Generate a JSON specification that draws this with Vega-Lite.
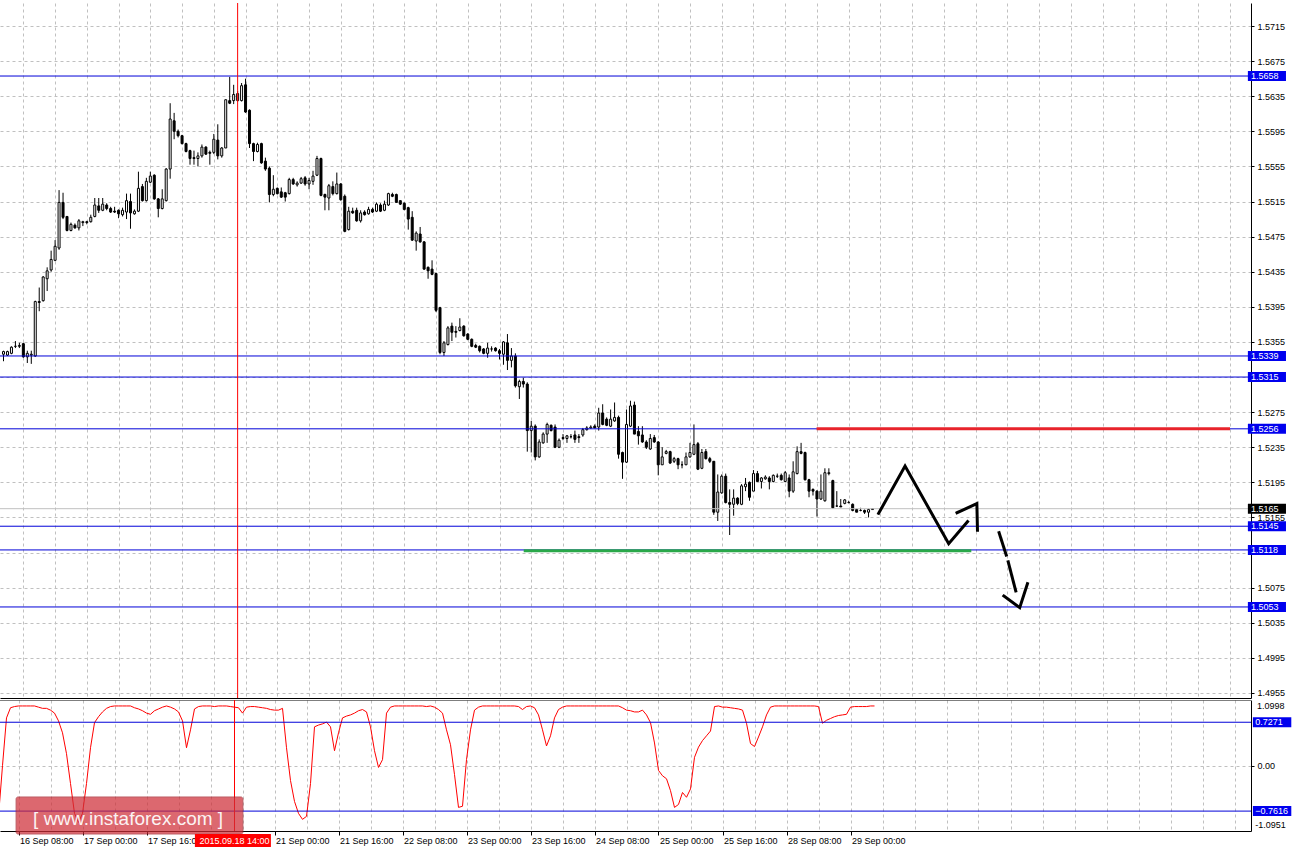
{
"$schema": "https://vega.github.io/schema/vega-lite/v6.json",
"background": "white",
"padding": 0,
"autosize": {"type": "pad"},
"spacing": 2,
"bounds": "flush",
"config": {
  "view": {"stroke": null},
  "font": "Liberation Sans",
  "axis": {"labelFont": "Liberation Sans", "labelFontSize": 9, "labelColor": "black", "domainColor": "black", "domainWidth": 1, "tickColor": "black", "gridColor": "#c0c0c0", "gridDash": [3, 3], "gridWidth": 1, "labelOverlap": false, "labelFlush": false, "labelBound": false}
},
"datasets": {
  "bars": [
{"k":0,"o":1.5341,"h":1.5345,"l":1.5333,"c":1.5344,"v":-0.85},
{"k":1,"o":1.5340,"h":1.5345,"l":1.5339,"c":1.5344,"v":0.0},
{"k":2,"o":1.5342,"h":1.5350,"l":1.5341,"c":1.5349,"v":0.8},
{"k":3,"o":1.5350,"h":1.5356,"l":1.5348,"c":1.5350,"v":0.97},
{"k":4,"o":1.5350,"h":1.5354,"l":1.5348,"c":1.5351,"v":0.99},
{"k":5,"o":1.5353,"h":1.5354,"l":1.5337,"c":1.5338,"v":1.0},
{"k":6,"o":1.5338,"h":1.5345,"l":1.5331,"c":1.5342,"v":1.0},
{"k":7,"o":1.5340,"h":1.5345,"l":1.5330,"c":1.5341,"v":1.0},
{"k":8,"o":1.5339,"h":1.5402,"l":1.5338,"c":1.5401,"v":1.0},
{"k":9,"o":1.5401,"h":1.5417,"l":1.5390,"c":1.5400,"v":1.0},
{"k":10,"o":1.5402,"h":1.5430,"l":1.5401,"c":1.5429,"v":0.98},
{"k":11,"o":1.5427,"h":1.5440,"l":1.5413,"c":1.5436,"v":0.96},
{"k":12,"o":1.5437,"h":1.5459,"l":1.5435,"c":1.5449,"v":0.96},
{"k":13,"o":1.5448,"h":1.5471,"l":1.5447,"c":1.5464,"v":0.93},
{"k":14,"o":1.5462,"h":1.5528,"l":1.5460,"c":1.5514,"v":0.88},
{"k":15,"o":1.5514,"h":1.5525,"l":1.5495,"c":1.5497,"v":0.75},
{"k":16,"o":1.5498,"h":1.5498,"l":1.5481,"c":1.5482,"v":0.55},
{"k":17,"o":1.5482,"h":1.5491,"l":1.5481,"c":1.5489,"v":0.2},
{"k":18,"o":1.5488,"h":1.5490,"l":1.5484,"c":1.5485,"v":-0.3},
{"k":19,"o":1.5485,"h":1.5495,"l":1.5482,"c":1.5493,"v":-0.8},
{"k":20,"o":1.5491,"h":1.5493,"l":1.5487,"c":1.5492,"v":-0.95},
{"k":21,"o":1.5492,"h":1.5493,"l":1.5489,"c":1.5491,"v":-0.8},
{"k":22,"o":1.5492,"h":1.5500,"l":1.5491,"c":1.5497,"v":-0.3},
{"k":23,"o":1.5498,"h":1.5519,"l":1.5497,"c":1.5511,"v":0.3},
{"k":24,"o":1.5510,"h":1.5519,"l":1.5502,"c":1.5505,"v":0.72},
{"k":25,"o":1.5505,"h":1.5519,"l":1.5504,"c":1.5512,"v":0.82},
{"k":26,"o":1.5511,"h":1.5513,"l":1.5505,"c":1.5507,"v":0.9},
{"k":27,"o":1.5507,"h":1.5509,"l":1.5502,"c":1.5503,"v":0.96},
{"k":28,"o":1.5504,"h":1.5509,"l":1.5502,"c":1.5503,"v":0.99},
{"k":29,"o":1.5505,"h":1.5506,"l":1.5496,"c":1.5501,"v":1.0},
{"k":30,"o":1.5500,"h":1.5508,"l":1.5498,"c":1.5505,"v":1.0},
{"k":31,"o":1.5503,"h":1.5524,"l":1.5495,"c":1.5516,"v":1.0},
{"k":32,"o":1.5515,"h":1.5524,"l":1.5484,"c":1.5502,"v":1.0},
{"k":33,"o":1.5501,"h":1.5506,"l":1.5500,"c":1.5504,"v":1.0},
{"k":34,"o":1.5504,"h":1.5549,"l":1.5503,"c":1.5530,"v":0.97},
{"k":35,"o":1.5532,"h":1.5535,"l":1.5515,"c":1.5516,"v":0.95},
{"k":36,"o":1.5516,"h":1.5542,"l":1.5515,"c":1.5538,"v":0.92},
{"k":37,"o":1.5537,"h":1.5549,"l":1.5536,"c":1.5544,"v":0.88},
{"k":38,"o":1.5545,"h":1.5546,"l":1.5517,"c":1.5518,"v":0.86},
{"k":39,"o":1.5518,"h":1.5519,"l":1.5497,"c":1.5507,"v":0.92},
{"k":40,"o":1.5507,"h":1.5529,"l":1.5506,"c":1.5518,"v":0.95},
{"k":41,"o":1.5516,"h":1.5553,"l":1.5515,"c":1.5552,"v":0.98},
{"k":42,"o":1.5552,"h":1.5627,"l":1.5541,"c":1.5609,"v":1.0},
{"k":43,"o":1.5607,"h":1.5616,"l":1.5586,"c":1.5595,"v":0.98},
{"k":44,"o":1.5595,"h":1.5597,"l":1.5588,"c":1.5590,"v":0.95},
{"k":45,"o":1.5590,"h":1.5591,"l":1.5580,"c":1.5581,"v":0.9},
{"k":46,"o":1.5581,"h":1.5582,"l":1.5571,"c":1.5572,"v":0.75},
{"k":47,"o":1.5573,"h":1.5574,"l":1.5557,"c":1.5564,"v":0.3},
{"k":48,"o":1.5565,"h":1.5573,"l":1.5557,"c":1.5564,"v":0.6},
{"k":49,"o":1.5564,"h":1.5571,"l":1.5555,"c":1.5567,"v":0.95},
{"k":50,"o":1.5567,"h":1.5580,"l":1.5565,"c":1.5577,"v":0.99},
{"k":51,"o":1.5577,"h":1.5578,"l":1.5568,"c":1.5569,"v":1.0},
{"k":52,"o":1.5571,"h":1.5573,"l":1.5557,"c":1.5570,"v":1.0},
{"k":53,"o":1.5571,"h":1.5592,"l":1.5569,"c":1.5586,"v":1.0},
{"k":54,"o":1.5585,"h":1.5603,"l":1.5563,"c":1.5567,"v":0.99},
{"k":55,"o":1.5567,"h":1.5577,"l":1.5565,"c":1.5576,"v":1.0},
{"k":56,"o":1.5576,"h":1.5631,"l":1.5576,"c":1.5631,"v":1.0},
{"k":57,"o":1.5630,"h":1.5657,"l":1.5626,"c":1.5627,"v":1.0},
{"k":58,"o":1.5630,"h":1.5648,"l":1.5626,"c":1.5637,"v":0.99},
{"k":59,"o":1.5630,"h":1.5641,"l":1.5629,"c":1.5638,"v":0.98},
{"k":60,"o":1.5630,"h":1.5650,"l":1.5629,"c":1.5647,"v":0.97},
{"k":61,"o":1.5648,"h":1.5655,"l":1.5616,"c":1.5617,"v":0.88},
{"k":62,"o":1.5619,"h":1.5620,"l":1.5576,"c":1.5581,"v":0.98},
{"k":63,"o":1.5581,"h":1.5582,"l":1.5561,"c":1.5572,"v":0.99},
{"k":64,"o":1.5572,"h":1.5582,"l":1.5571,"c":1.5580,"v":0.99},
{"k":65,"o":1.5581,"h":1.5582,"l":1.5558,"c":1.5559,"v":0.98},
{"k":66,"o":1.5561,"h":1.5565,"l":1.5550,"c":1.5552,"v":0.97},
{"k":67,"o":1.5553,"h":1.5555,"l":1.5514,"c":1.5523,"v":0.96},
{"k":68,"o":1.5523,"h":1.5545,"l":1.5521,"c":1.5529,"v":0.94},
{"k":69,"o":1.5530,"h":1.5531,"l":1.5523,"c":1.5524,"v":0.93},
{"k":70,"o":1.5526,"h":1.5531,"l":1.5519,"c":1.5520,"v":0.93},
{"k":71,"o":1.5525,"h":1.5526,"l":1.5515,"c":1.5520,"v":0.96},
{"k":72,"o":1.5524,"h":1.5542,"l":1.5523,"c":1.5540,"v":0.3},
{"k":73,"o":1.5540,"h":1.5542,"l":1.5534,"c":1.5535,"v":-0.25},
{"k":74,"o":1.5534,"h":1.5538,"l":1.5532,"c":1.5536,"v":-0.6},
{"k":75,"o":1.5536,"h":1.5543,"l":1.5535,"c":1.5541,"v":-0.8},
{"k":76,"o":1.5542,"h":1.5544,"l":1.5533,"c":1.5535,"v":-0.9},
{"k":77,"o":1.5535,"h":1.5542,"l":1.5529,"c":1.5539,"v":-0.85},
{"k":78,"o":1.5538,"h":1.5550,"l":1.5534,"c":1.5544,"v":-0.3},
{"k":79,"o":1.5545,"h":1.5567,"l":1.5544,"c":1.5564,"v":0.65},
{"k":80,"o":1.5564,"h":1.5565,"l":1.5521,"c":1.5522,"v":0.68},
{"k":81,"o":1.5523,"h":1.5524,"l":1.5505,"c":1.5520,"v":0.7},
{"k":82,"o":1.5519,"h":1.5535,"l":1.5505,"c":1.5533,"v":0.73},
{"k":83,"o":1.5532,"h":1.5538,"l":1.5522,"c":1.5524,"v":0.65},
{"k":84,"o":1.5524,"h":1.5548,"l":1.5523,"c":1.5535,"v":0.25},
{"k":85,"o":1.5535,"h":1.5536,"l":1.5516,"c":1.5517,"v":0.55},
{"k":86,"o":1.5521,"h":1.5523,"l":1.5480,"c":1.5481,"v":0.8},
{"k":87,"o":1.5483,"h":1.5509,"l":1.5482,"c":1.5504,"v":0.83},
{"k":88,"o":1.5504,"h":1.5508,"l":1.5501,"c":1.5502,"v":0.85},
{"k":89,"o":1.5505,"h":1.5508,"l":1.5492,"c":1.5493,"v":0.88},
{"k":90,"o":1.5493,"h":1.5505,"l":1.5491,"c":1.5502,"v":0.92},
{"k":91,"o":1.5503,"h":1.5505,"l":1.5499,"c":1.5500,"v":0.94},
{"k":92,"o":1.5501,"h":1.5509,"l":1.5500,"c":1.5506,"v":0.9},
{"k":93,"o":1.5506,"h":1.5508,"l":1.5502,"c":1.5503,"v":0.65},
{"k":94,"o":1.5504,"h":1.5514,"l":1.5503,"c":1.5512,"v":0.25},
{"k":95,"o":1.5511,"h":1.5513,"l":1.5503,"c":1.5504,"v":-0.03},
{"k":96,"o":1.5505,"h":1.5516,"l":1.5504,"c":1.5512,"v":0.1},
{"k":97,"o":1.5511,"h":1.5525,"l":1.5510,"c":1.5524,"v":0.88},
{"k":98,"o":1.5523,"h":1.5525,"l":1.5520,"c":1.5521,"v":0.98},
{"k":99,"o":1.5523,"h":1.5524,"l":1.5514,"c":1.5514,"v":1.0},
{"k":100,"o":1.5516,"h":1.5516,"l":1.5511,"c":1.5512,"v":1.0},
{"k":101,"o":1.5513,"h":1.5514,"l":1.5505,"c":1.5506,"v":1.0},
{"k":102,"o":1.5508,"h":1.5509,"l":1.5483,"c":1.5495,"v":1.0},
{"k":103,"o":1.5497,"h":1.5504,"l":1.5470,"c":1.5471,"v":1.0},
{"k":104,"o":1.5470,"h":1.5481,"l":1.5459,"c":1.5479,"v":1.0},
{"k":105,"o":1.5478,"h":1.5486,"l":1.5468,"c":1.5469,"v":1.0},
{"k":106,"o":1.5469,"h":1.5470,"l":1.5437,"c":1.5438,"v":1.0},
{"k":107,"o":1.5440,"h":1.5441,"l":1.5427,"c":1.5436,"v":0.99},
{"k":108,"o":1.5438,"h":1.5448,"l":1.5431,"c":1.5432,"v":1.0},
{"k":109,"o":1.5433,"h":1.5434,"l":1.5389,"c":1.5391,"v":0.98},
{"k":110,"o":1.5394,"h":1.5395,"l":1.5341,"c":1.5343,"v":0.94},
{"k":111,"o":1.5343,"h":1.5356,"l":1.5339,"c":1.5354,"v":0.88},
{"k":112,"o":1.5352,"h":1.5373,"l":1.5351,"c":1.5371,"v":0.6},
{"k":113,"o":1.5373,"h":1.5377,"l":1.5356,"c":1.5366,"v":0.35},
{"k":114,"o":1.5367,"h":1.5373,"l":1.5360,"c":1.5366,"v":-0.15},
{"k":115,"o":1.5368,"h":1.5382,"l":1.5367,"c":1.5372,"v":-0.7},
{"k":116,"o":1.5373,"h":1.5374,"l":1.5361,"c":1.5362,"v":-0.68},
{"k":117,"o":1.5364,"h":1.5365,"l":1.5357,"c":1.5358,"v":0.1},
{"k":118,"o":1.5358,"h":1.5359,"l":1.5349,"c":1.5350,"v":0.6},
{"k":119,"o":1.5351,"h":1.5353,"l":1.5348,"c":1.5349,"v":0.93},
{"k":120,"o":1.5350,"h":1.5351,"l":1.5343,"c":1.5345,"v":0.98},
{"k":121,"o":1.5347,"h":1.5348,"l":1.5341,"c":1.5342,"v":1.0},
{"k":122,"o":1.5342,"h":1.5354,"l":1.5337,"c":1.5348,"v":1.0},
{"k":123,"o":1.5347,"h":1.5350,"l":1.5344,"c":1.5347,"v":1.0},
{"k":124,"o":1.5348,"h":1.5349,"l":1.5344,"c":1.5345,"v":1.0},
{"k":125,"o":1.5345,"h":1.5347,"l":1.5335,"c":1.5342,"v":1.0},
{"k":126,"o":1.5341,"h":1.5356,"l":1.5329,"c":1.5355,"v":1.0},
{"k":127,"o":1.5354,"h":1.5364,"l":1.5323,"c":1.5334,"v":1.0},
{"k":128,"o":1.5334,"h":1.5348,"l":1.5326,"c":1.5339,"v":1.0},
{"k":129,"o":1.5339,"h":1.5342,"l":1.5303,"c":1.5305,"v":1.0},
{"k":130,"o":1.5304,"h":1.5312,"l":1.5290,"c":1.5310,"v":0.99},
{"k":131,"o":1.5310,"h":1.5314,"l":1.5303,"c":1.5307,"v":0.94},
{"k":132,"o":1.5307,"h":1.5309,"l":1.5230,"c":1.5254,"v":0.99},
{"k":133,"o":1.5254,"h":1.5265,"l":1.5229,"c":1.5259,"v":1.0},
{"k":134,"o":1.5259,"h":1.5261,"l":1.5220,"c":1.5224,"v":0.97},
{"k":135,"o":1.5224,"h":1.5244,"l":1.5223,"c":1.5241,"v":0.85},
{"k":136,"o":1.5240,"h":1.5252,"l":1.5239,"c":1.5250,"v":0.6},
{"k":137,"o":1.5250,"h":1.5263,"l":1.5240,"c":1.5261,"v":0.33},
{"k":138,"o":1.5260,"h":1.5261,"l":1.5253,"c":1.5254,"v":0.5},
{"k":139,"o":1.5258,"h":1.5261,"l":1.5234,"c":1.5235,"v":0.8},
{"k":140,"o":1.5235,"h":1.5245,"l":1.5234,"c":1.5243,"v":0.94},
{"k":141,"o":1.5246,"h":1.5250,"l":1.5243,"c":1.5245,"v":0.98},
{"k":142,"o":1.5245,"h":1.5249,"l":1.5240,"c":1.5248,"v":1.0},
{"k":143,"o":1.5247,"h":1.5250,"l":1.5245,"c":1.5247,"v":1.0},
{"k":144,"o":1.5249,"h":1.5254,"l":1.5240,"c":1.5244,"v":1.0},
{"k":145,"o":1.5247,"h":1.5250,"l":1.5240,"c":1.5246,"v":1.0},
{"k":146,"o":1.5249,"h":1.5257,"l":1.5247,"c":1.5255,"v":1.0},
{"k":147,"o":1.5255,"h":1.5259,"l":1.5254,"c":1.5257,"v":1.0},
{"k":148,"o":1.5257,"h":1.5260,"l":1.5256,"c":1.5258,"v":1.0},
{"k":149,"o":1.5259,"h":1.5261,"l":1.5257,"c":1.5257,"v":1.0},
{"k":150,"o":1.5258,"h":1.5280,"l":1.5254,"c":1.5274,"v":1.0},
{"k":151,"o":1.5274,"h":1.5284,"l":1.5260,"c":1.5261,"v":1.0},
{"k":152,"o":1.5267,"h":1.5269,"l":1.5259,"c":1.5260,"v":1.0},
{"k":153,"o":1.5259,"h":1.5278,"l":1.5258,"c":1.5267,"v":1.0},
{"k":154,"o":1.5265,"h":1.5286,"l":1.5264,"c":1.5269,"v":1.0},
{"k":155,"o":1.5269,"h":1.5271,"l":1.5222,"c":1.5227,"v":1.0},
{"k":156,"o":1.5229,"h":1.5230,"l":1.5199,"c":1.5218,"v":0.97},
{"k":157,"o":1.5218,"h":1.5278,"l":1.5217,"c":1.5261,"v":0.93},
{"k":158,"o":1.5259,"h":1.5288,"l":1.5258,"c":1.5282,"v":0.92},
{"k":159,"o":1.5283,"h":1.5287,"l":1.5250,"c":1.5250,"v":0.9},
{"k":160,"o":1.5253,"h":1.5259,"l":1.5238,"c":1.5248,"v":0.9},
{"k":161,"o":1.5249,"h":1.5259,"l":1.5240,"c":1.5241,"v":0.93},
{"k":162,"o":1.5241,"h":1.5243,"l":1.5233,"c":1.5235,"v":0.85},
{"k":163,"o":1.5233,"h":1.5250,"l":1.5232,"c":1.5245,"v":0.72},
{"k":164,"o":1.5246,"h":1.5249,"l":1.5240,"c":1.5241,"v":0.38},
{"k":165,"o":1.5241,"h":1.5242,"l":1.5203,"c":1.5215,"v":-0.08},
{"k":166,"o":1.5215,"h":1.5235,"l":1.5215,"c":1.5224,"v":-0.17},
{"k":167,"o":1.5228,"h":1.5232,"l":1.5227,"c":1.5230,"v":-0.22},
{"k":168,"o":1.5230,"h":1.5231,"l":1.5216,"c":1.5217,"v":-0.42},
{"k":169,"o":1.5219,"h":1.5224,"l":1.5217,"c":1.5222,"v":-0.7},
{"k":170,"o":1.5222,"h":1.5223,"l":1.5210,"c":1.5215,"v":-0.65},
{"k":171,"o":1.5215,"h":1.5219,"l":1.5211,"c":1.5215,"v":-0.45},
{"k":172,"o":1.5215,"h":1.5229,"l":1.5215,"c":1.5224,"v":-0.53},
{"k":173,"o":1.5224,"h":1.5240,"l":1.5223,"c":1.5229,"v":-0.39},
{"k":174,"o":1.5227,"h":1.5261,"l":1.5226,"c":1.5238,"v":0.14},
{"k":175,"o":1.5239,"h":1.5241,"l":1.5209,"c":1.5210,"v":0.31},
{"k":176,"o":1.5211,"h":1.5233,"l":1.5210,"c":1.5229,"v":0.42},
{"k":177,"o":1.5230,"h":1.5233,"l":1.5221,"c":1.5222,"v":0.5},
{"k":178,"o":1.5222,"h":1.5224,"l":1.5217,"c":1.5219,"v":0.58},
{"k":179,"o":1.5219,"h":1.5219,"l":1.5158,"c":1.5161,"v":0.99},
{"k":180,"o":1.5161,"h":1.5204,"l":1.5151,"c":1.5184,"v":1.0},
{"k":181,"o":1.5183,"h":1.5204,"l":1.5182,"c":1.5202,"v":0.98},
{"k":182,"o":1.5202,"h":1.5205,"l":1.5171,"c":1.5172,"v":0.98},
{"k":183,"o":1.5172,"h":1.5187,"l":1.5135,"c":1.5170,"v":0.97},
{"k":184,"o":1.5170,"h":1.5187,"l":1.5157,"c":1.5177,"v":0.96},
{"k":185,"o":1.5177,"h":1.5178,"l":1.5169,"c":1.5171,"v":0.95},
{"k":186,"o":1.5170,"h":1.5193,"l":1.5169,"c":1.5191,"v":0.93},
{"k":187,"o":1.5190,"h":1.5200,"l":1.5185,"c":1.5193,"v":0.71},
{"k":188,"o":1.5195,"h":1.5196,"l":1.5174,"c":1.5178,"v":0.37},
{"k":189,"o":1.5185,"h":1.5209,"l":1.5185,"c":1.5205,"v":0.32},
{"k":190,"o":1.5205,"h":1.5208,"l":1.5196,"c":1.5196,"v":0.48},
{"k":191,"o":1.5196,"h":1.5201,"l":1.5188,"c":1.5200,"v":0.65},
{"k":192,"o":1.5199,"h":1.5203,"l":1.5198,"c":1.5201,"v":0.85},
{"k":193,"o":1.5200,"h":1.5202,"l":1.5187,"c":1.5196,"v":0.98},
{"k":194,"o":1.5196,"h":1.5204,"l":1.5195,"c":1.5203,"v":1.0},
{"k":195,"o":1.5202,"h":1.5205,"l":1.5200,"c":1.5202,"v":1.0},
{"k":196,"o":1.5203,"h":1.5205,"l":1.5197,"c":1.5198,"v":1.0},
{"k":197,"o":1.5196,"h":1.5208,"l":1.5195,"c":1.5206,"v":1.0},
{"k":198,"o":1.5200,"h":1.5204,"l":1.5178,"c":1.5185,"v":1.0},
{"k":199,"o":1.5185,"h":1.5219,"l":1.5183,"c":1.5207,"v":1.0},
{"k":200,"o":1.5205,"h":1.5236,"l":1.5204,"c":1.5230,"v":1.0},
{"k":201,"o":1.5230,"h":1.5240,"l":1.5227,"c":1.5228,"v":1.0},
{"k":202,"o":1.5229,"h":1.5230,"l":1.5197,"c":1.5198,"v":1.0},
{"k":203,"o":1.5198,"h":1.5199,"l":1.5178,"c":1.5185,"v":1.0},
{"k":204,"o":1.5187,"h":1.5188,"l":1.5180,"c":1.5185,"v":1.0},
{"k":205,"o":1.5185,"h":1.5186,"l":1.5156,"c":1.5176,"v":0.99},
{"k":206,"o":1.5176,"h":1.5204,"l":1.5175,"c":1.5185,"v":0.71},
{"k":207,"o":1.5174,"h":1.5211,"l":1.5173,"c":1.5206,"v":0.76},
{"k":208,"o":1.5205,"h":1.5211,"l":1.5203,"c":1.5206,"v":0.79},
{"k":209,"o":1.5197,"h":1.5198,"l":1.5165,"c":1.5166,"v":0.82},
{"k":210,"o":1.5168,"h":1.5185,"l":1.5167,"c":1.5168,"v":0.84},
{"k":211,"o":1.5168,"h":1.5176,"l":1.5167,"c":1.5167,"v":0.85},
{"k":212,"o":1.5171,"h":1.5176,"l":1.5170,"c":1.5175,"v":0.86},
{"k":213,"o":1.5172,"h":1.5174,"l":1.5171,"c":1.5172,"v":0.98},
{"k":214,"o":1.5170,"h":1.5171,"l":1.5162,"c":1.5163,"v":0.99},
{"k":215,"o":1.5164,"h":1.5165,"l":1.5161,"c":1.5161,"v":0.99},
{"k":216,"o":1.5163,"h":1.5166,"l":1.5162,"c":1.5163,"v":0.99},
{"k":217,"o":1.5163,"h":1.5164,"l":1.5159,"c":1.5161,"v":0.99},
{"k":218,"o":1.5161,"h":1.5165,"l":1.5155,"c":1.5164,"v":1.0},
{"k":219,"o":1.5164,"h":1.5165,"l":1.5164,"c":1.5165,"v":1.0}
  ],
  "levels": [
    {"p": 1.5658, "kind": "level"}, {"p": 1.5339, "kind": "level"}, {"p": 1.5315, "kind": "level"},
    {"p": 1.5256, "kind": "level"}, {"p": 1.5145, "kind": "level"}, {"p": 1.5118, "kind": "level"},
    {"p": 1.5053, "kind": "level"}, {"p": 1.5165, "kind": "price"}
  ],
  "ilevels": [{"p": 0.7271}, {"p": -0.7616}],
  "segments": [
    {"name": "resistance", "p": 1.5256, "k1": 204.9, "k2": 309.1},
    {"name": "support", "p": 1.5117, "k1": 131.1, "k2": 243.9}
  ],
  "arrows": [
    {"seg": "a", "i": 0, "k": 220.55, "p": 1.51597},
    {"seg": "a", "i": 1, "k": 227.2, "p": 1.52136},
    {"seg": "a", "i": 2, "k": 238.2, "p": 1.51251},
    {"seg": "a", "i": 3, "k": 242.95, "p": 1.51502},
    {"seg": "b", "i": 0, "k": 240.3, "p": 1.51604},
    {"seg": "b", "i": 1, "k": 245.3, "p": 1.51707},
    {"seg": "b", "i": 2, "k": 245.45, "p": 1.51404},
    {"seg": "c", "i": 0, "k": 250.9, "p": 1.51376},
    {"seg": "c", "i": 1, "k": 252.7, "p": 1.51122},
    {"seg": "d", "i": 0, "k": 253.2, "p": 1.51043},
    {"seg": "d", "i": 1, "k": 255.1, "p": 1.50712},
    {"seg": "e", "i": 0, "k": 252.1, "p": 1.50655},
    {"seg": "e", "i": 1, "k": 256.1, "p": 1.50522},
    {"seg": "e", "i": 2, "k": 258.05, "p": 1.50795}
  ],
  "vline": [{"k": 59, "label": "2015.09.18 14:00"}],
  "one": [{}]
},
"vconcat": [
  {
    "width": 1251,
    "height": 695,
    "layer": [
      {
        "data": {"name": "one"},
        "mark": {"type": "rect", "fill": "white", "clip": false},
        "encoding": {
          "x": {"datum": -0.125, "type": "quantitative"}, "x2": {"datum": 0.375},
          "y": {"datum": 1.574349, "type": "quantitative"}, "y2": {"datum": 1.574121}
        }
      },
      {
        "data": {"name": "bars"},
        "mark": {"type": "rule", "color": "black", "strokeWidth": 1, "clip": true},
        "encoding": {
          "x": {"field": "k", "type": "quantitative",
                "scale": {"domain": [0.375, 313.125], "nice": false, "zero": false},
                "axis": {"orient": "bottom", "values": [5,13,21,29,37,45,53,61,69,77,85,93,101,109,117,125,133,141,149,157,165,173,181,189,197,205,213,221,229,237,245,253,261,269,277,285,293,301,309], "tickCount": 100, "grid": true, "labels": false, "ticks": false, "domain": true, "title": null}},
          "y": {"field": "l", "type": "quantitative",
                "scale": {"domain": [1.494927, 1.574121], "nice": false, "zero": false},
                "axis": {"orient": "right", "values": [1.4955,1.4995,1.5035,1.5075,1.5115,1.5155,1.5195,1.5235,1.5275,1.5315,1.5355,1.5395,1.5435,1.5475,1.5515,1.5555,1.5595,1.5635,1.5675,1.5715], "tickCount": 100, "format": ".4f",
                         "labelExpr": "(abs(datum.value - 1.5115) < 0.00001 || abs(datum.value - 1.5315) < 0.00001) ? '' : datum.label",
                         "grid": true, "tickSize": 3, "labelPadding": 3, "domain": true, "labelOverlap": false, "title": null}},
          "y2": {"field": "h"}
        }
      },
      {
        "data": {"name": "bars"},
        "mark": {"type": "bar", "size": 2, "stroke": "black", "strokeWidth": 1, "clip": true},
        "encoding": {
          "x": {"field": "k", "type": "quantitative"},
          "y": {"field": "o", "type": "quantitative"},
          "y2": {"field": "c"},
          "fill": {"condition": {"test": "datum.c < datum.o", "value": "black"}, "value": "white"}
        }
      },
      {
        "data": {"name": "levels"},
        "mark": {"type": "rule", "strokeWidth": 1, "clip": true},
        "encoding": {
          "y": {"field": "p", "type": "quantitative"},
          "color": {"condition": {"test": "datum.kind == 'price'", "value": "#c0c0c0"}, "value": "#0000d8"}
        }
      },
      {
        "data": {"name": "segments"},
        "mark": {"type": "rule", "strokeWidth": 3, "clip": true},
        "encoding": {
          "x": {"field": "k1", "type": "quantitative"},
          "x2": {"field": "k2"},
          "y": {"field": "p", "type": "quantitative"},
          "color": {"field": "name", "type": "nominal", "scale": {"domain": ["resistance", "support"], "range": ["#e8232b", "#2aa84a"]}, "legend": null}
        }
      },
      {
        "data": {"name": "arrows"},
        "mark": {"type": "line", "color": "black", "strokeWidth": 3, "strokeCap": "square", "strokeJoin": "miter", "clip": true},
        "encoding": {
          "x": {"field": "k", "type": "quantitative"},
          "y": {"field": "p", "type": "quantitative"},
          "detail": {"field": "seg", "type": "nominal"},
          "order": {"field": "i", "type": "quantitative"}
        }
      },
      {
        "data": {"name": "vline"},
        "mark": {"type": "rule", "color": "#ff0000", "strokeWidth": 1, "clip": true},
        "encoding": {"x": {"field": "k", "type": "quantitative"}}
      },
      {
        "data": {"name": "levels"},
        "mark": {"type": "rule", "strokeWidth": 10, "strokeCap": "butt"},
        "encoding": {
          "x": {"datum": 313.6, "type": "quantitative"},
          "x2": {"datum": 323.2},
          "y": {"field": "p", "type": "quantitative"},
          "color": {"condition": {"test": "datum.kind == 'price'", "value": "black"}, "value": "#0000ee"}
        }
      },
      {
        "data": {"name": "levels"},
        "mark": {"type": "text", "align": "left", "baseline": "middle", "color": "white", "font": "Liberation Sans", "fontSize": 9},
        "encoding": {
          "x": {"datum": 314.4, "type": "quantitative"},
          "y": {"field": "p", "type": "quantitative"},
          "text": {"field": "p", "type": "quantitative", "format": ".4f"}
        }
      }
    ]
  },
  {
    "width": 1251,
    "height": 131,
    "layer": [
      {
        "data": {"name": "bars"},
        "mark": {"type": "line", "color": "#ff0000", "strokeWidth": 1, "strokeJoin": "round", "clip": true},
        "encoding": {
          "x": {"field": "k", "type": "quantitative",
                "scale": {"domain": [0.375, 313.125], "nice": false, "zero": false},
                "axis": {"orient": "bottom", "values": [5,13,21,29,37,45,53,61,69,77,85,93,101,109,117,125,133,141,149,157,165,173,181,189,197,205,213,221,229,237,245,253,261,269,277,285,293,301,309], "tickCount": 100, "grid": true, "domain": true, "tickSize": 4, "title": null, "labelOverlap": false,
                         "tickOpacity": {"condition": {"test": "datum.value <= 213 && (datum.value - 5) % 16 == 0 && datum.value != 53", "value": 1}, "value": 0},
                         "labelExpr": "(datum.value <= 213 && (datum.value - 5) % 16 == 0 && datum.value != 53) ? ['16 Sep 08:00','17 Sep 00:00','17 Sep 16:00','18 Sep 08:00','21 Sep 00:00','21 Sep 16:00','22 Sep 08:00','23 Sep 00:00','23 Sep 16:00','24 Sep 08:00','25 Sep 00:00','25 Sep 16:00','28 Sep 08:00','29 Sep 00:00'][(datum.value - 5) / 16] : ''",
                         "labelAlign": "left", "labelBaseline": "top", "labelPadding": 1, "labelOffset": 1}},
          "y": {"field": "v", "type": "quantitative",
                "scale": {"domain": [-1.0951, 1.0998], "nice": false, "zero": false},
                "axis": {"orient": "right", "values": [0], "tickCount": 100, "format": ".2f", "grid": true, "tickSize": 3, "labelPadding": 3, "domain": true, "title": null, "labelOverlap": false}}
        }
      },
      {
        "data": {"name": "ilevels"},
        "mark": {"type": "rule", "color": "#0000d8", "strokeWidth": 1, "clip": true},
        "encoding": {"y": {"field": "p", "type": "quantitative"}}
      },
      {
        "data": {"name": "one"},
        "mark": {"type": "rule", "color": "black", "strokeWidth": 1, "clip": true},
        "encoding": {"y": {"datum": 1.0998, "type": "quantitative"}}
      },
      {
        "data": {"name": "vline"},
        "mark": {"type": "rule", "color": "#ff0000", "strokeWidth": 1, "clip": true},
        "encoding": {"x": {"field": "k", "type": "quantitative"}}
      },
      {
        "data": {"name": "ilevels"},
        "mark": {"type": "rule", "strokeWidth": 10, "strokeCap": "butt", "color": "#0000ee"},
        "encoding": {
          "x": {"datum": 313.6, "type": "quantitative"},
          "x2": {"datum": 323.2},
          "y": {"field": "p", "type": "quantitative"}
        }
      },
      {
        "data": {"name": "ilevels"},
        "mark": {"type": "text", "align": "left", "baseline": "middle", "color": "white", "font": "Liberation Sans", "fontSize": 9},
        "encoding": {
          "x": {"datum": 314.2, "type": "quantitative"},
          "y": {"field": "p", "type": "quantitative"},
          "text": {"field": "p", "type": "quantitative", "format": ".4f"}
        }
      },
      {
        "data": {"name": "one"},
        "mark": {"type": "text", "align": "left", "baseline": "top", "dy": 2, "color": "black", "font": "Liberation Sans", "fontSize": 9, "text": "1.0998"},
        "encoding": {"x": {"datum": 314.6, "type": "quantitative"}, "y": {"datum": 1.0998, "type": "quantitative"}}
      },
      {
        "data": {"name": "one"},
        "mark": {"type": "text", "align": "left", "baseline": "bottom", "dy": -1, "color": "black", "font": "Liberation Sans", "fontSize": 9, "text": "-1.0951"},
        "encoding": {"x": {"datum": 314.2, "type": "quantitative"}, "y": {"datum": -1.0951, "type": "quantitative"}}
      },
      {
        "data": {"name": "one"},
        "mark": {"type": "rect", "fill": "#cf2f38", "opacity": 0.72, "stroke": "#a5202a", "strokeWidth": 1, "cornerRadius": 2},
        "encoding": {
          "x": {"datum": 4.4, "type": "quantitative"}, "x2": {"datum": 61.1},
          "y": {"datum": -0.5254, "type": "quantitative"}, "y2": {"datum": -1.1454}
        }
      },
      {
        "data": {"name": "one"},
        "mark": {"type": "text", "align": "center", "baseline": "middle", "color": "white", "opacity": 0.92, "font": "Liberation Sans", "fontSize": 19, "text": "[ www.instaforex.com ]"},
        "encoding": {"x": {"datum": 32.4, "type": "quantitative"}, "y": {"datum": -0.894, "type": "quantitative"}}
      },
      {
        "data": {"name": "vline"},
        "mark": {"type": "rect", "fill": "#ff0000"},
        "encoding": {
          "x": {"datum": 49.1, "type": "quantitative"}, "x2": {"datum": 68.1},
          "y": {"datum": -1.1454, "type": "quantitative"}, "y2": {"datum": -1.3632}
        }
      },
      {
        "data": {"name": "vline"},
        "mark": {"type": "text", "align": "center", "baseline": "middle", "color": "white", "font": "Liberation Sans", "fontSize": 9},
        "encoding": {
          "x": {"field": "k", "type": "quantitative"},
          "y": {"datum": -1.2543, "type": "quantitative"},
          "text": {"field": "label"}
        }
      }
    ]
  }
]
}
